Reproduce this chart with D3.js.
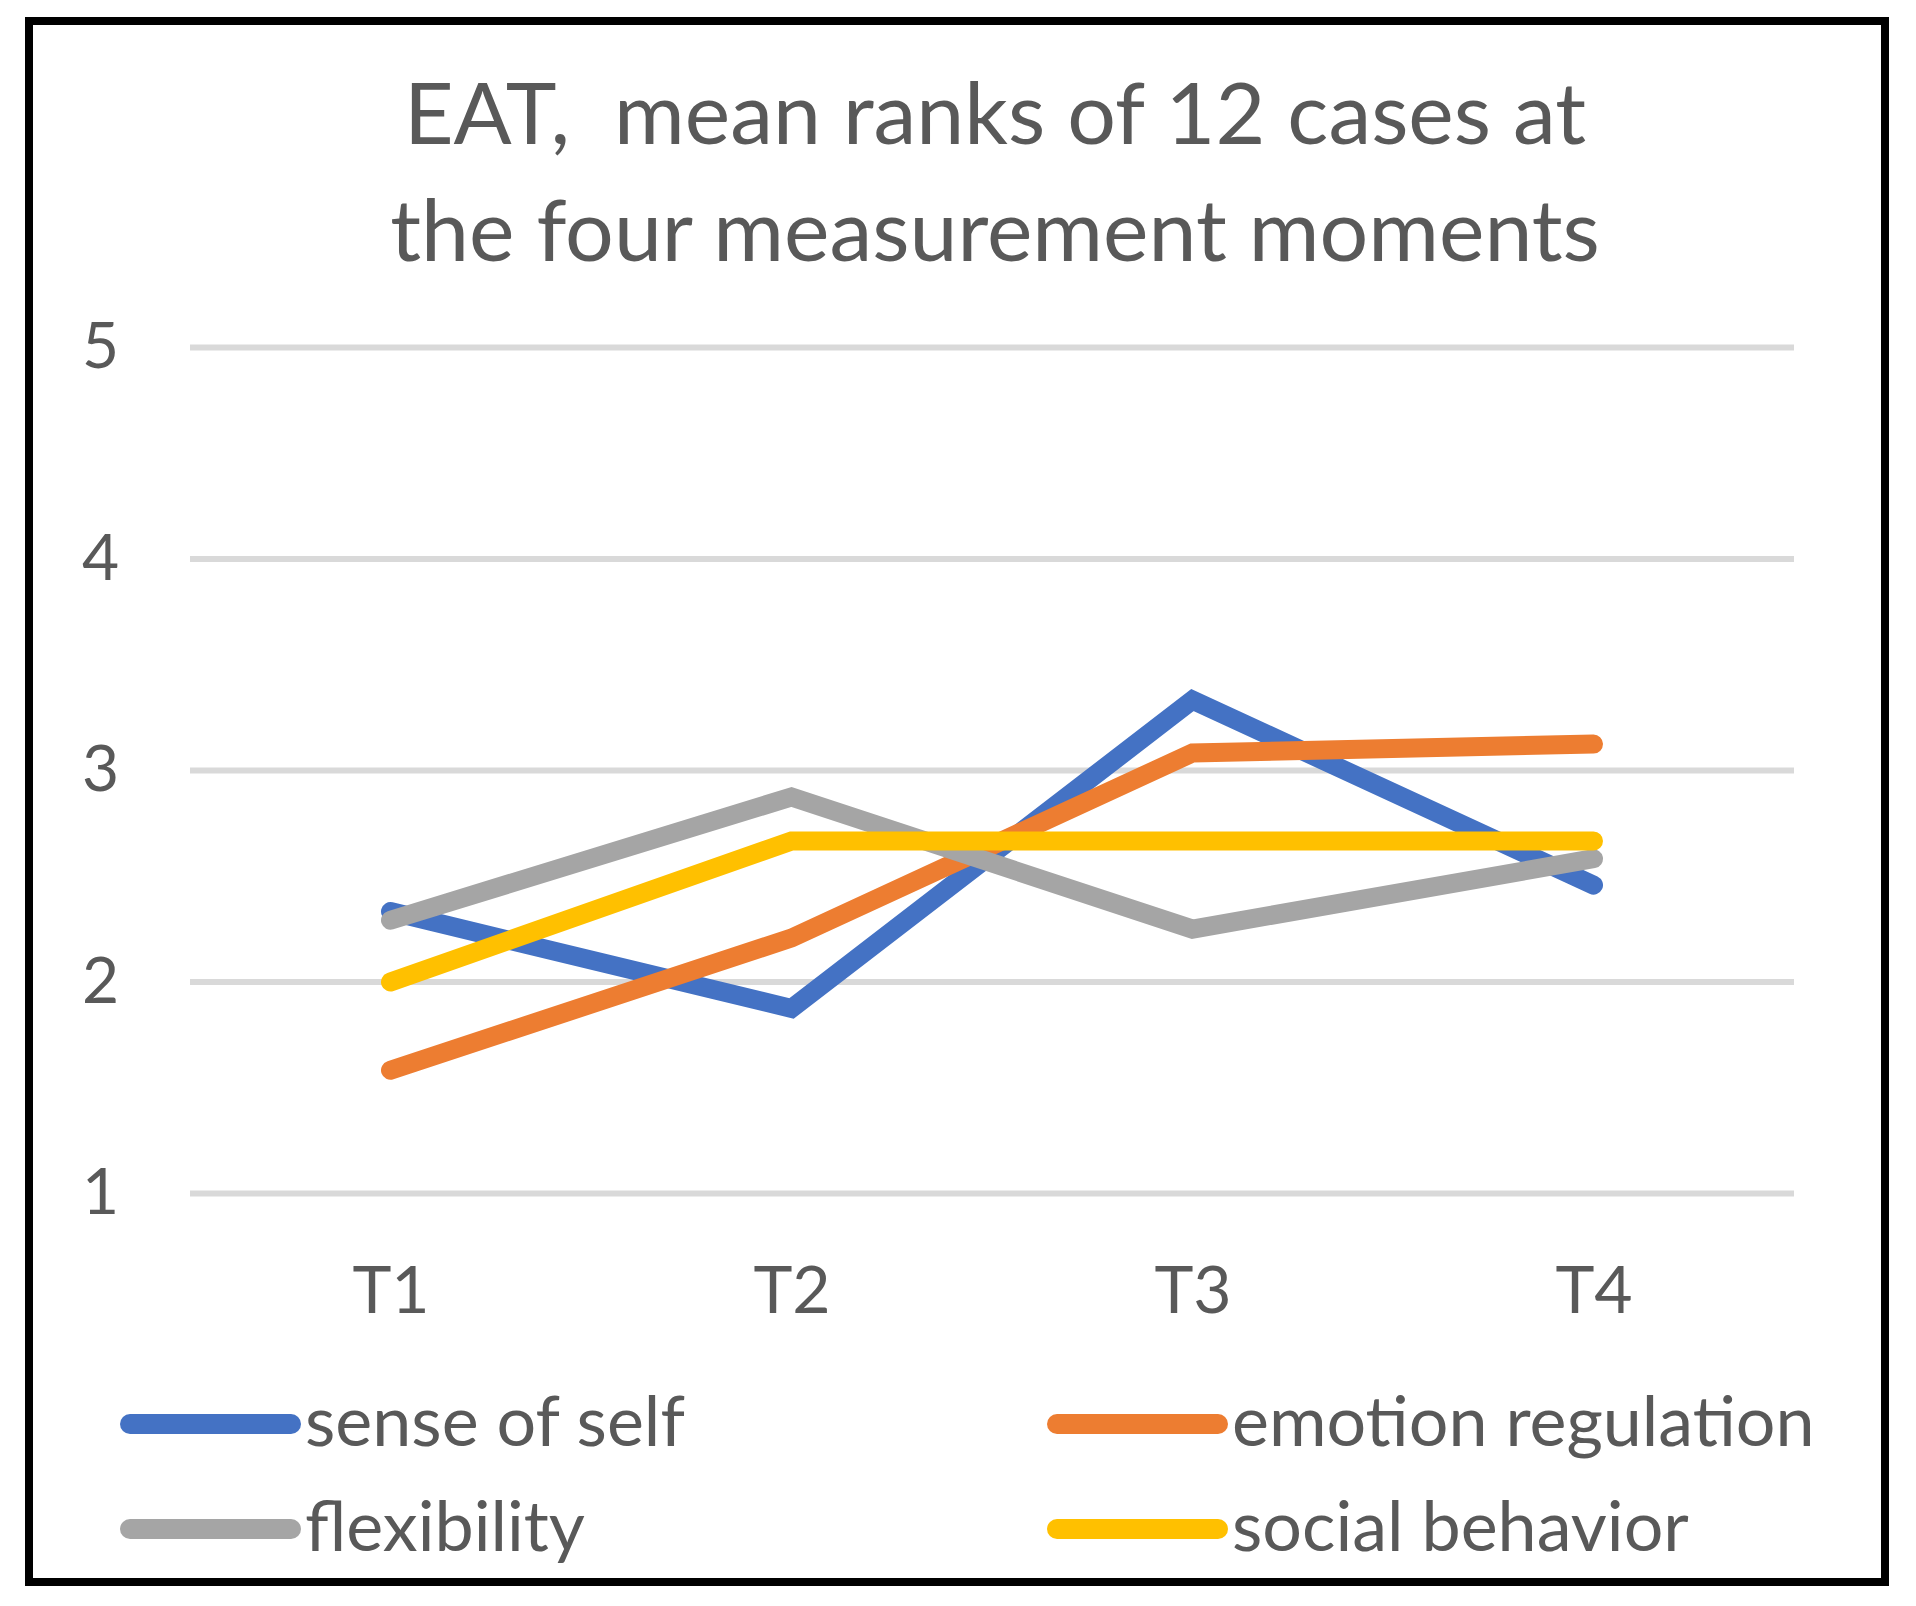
<!DOCTYPE html>
<html>
<head>
<meta charset="utf-8">
<script src="https://cdn.jsdelivr.net/npm/d3@7"></script>
<style>
  html, body { margin: 0; padding: 0; background: #ffffff; }
  svg { display: block; }
</style>
</head>
<body>
<svg id="chart" width="1916" height="1606"></svg>
<script>
// data (mean ranks, 12 cases)
var categories = ["T1", "T2", "T3", "T4"];
var seriesNames = ["sense of self", "emotion regulation", "flexibility", "social behavior"];
var seriesColors = ["#4472C4", "#ED7D31", "#A5A5A5", "#FFC000"];
var senseOfSelf = [2.333, 1.875, 3.333, 2.458];
var emotionRegulation = [1.583, 2.208, 3.083, 3.125];
var flexibility = [2.292, 2.875, 2.25, 2.583];
var socialBehavior = [2.0, 2.667, 2.667, 2.667];
var yTicks = [1, 2, 3, 4, 5];
var titleLines = ["EAT,  mean ranks of 12 cases at", "the four measurement moments"];

var seriesValues = [senseOfSelf, emotionRegulation, flexibility, socialBehavior];

var svg = d3.select("#chart");
var textColor = "#595959";
var font = "Lato, 'Open Sans', sans-serif";

svg.append("rect")
    .attr("width", 1916).attr("height", 1606)
    .attr("fill", "#ffffff");

/* outer frame */
svg.append("rect")
    .attr("x", 29).attr("y", 21)
    .attr("width", 1856).attr("height", 1561)
    .attr("fill", "none")
    .attr("stroke", "#000000")
    .attr("stroke-width", 8);

/* title */
svg.append("text")
    .attr("text-anchor", "middle")
    .attr("font-family", font)
    .attr("font-size", "86px")
    .attr("fill", textColor)
    .selectAll("tspan")
    .data(titleLines)
    .enter()
    .append("tspan")
    .attr("x", 995)
    .attr("y", function(d, i) { return 144 + i * 117; })
    .style("white-space", "pre")
    .text(function(d) { return d; });

var x = d3.scalePoint().domain(categories).range([190, 1794]).padding(0.5);
var y = d3.scaleLinear().domain([1, 5]).range([1193.5, 347.5]);

/* gridlines */
svg.append("g")
    .selectAll("line")
    .data(yTicks)
    .enter()
    .append("line")
    .attr("x1", 190).attr("x2", 1794)
    .attr("y1", function(d) { return y(d); })
    .attr("y2", function(d) { return y(d); })
    .attr("stroke", "#D9D9D9")
    .attr("stroke-width", 6);

/* y axis labels */
var yAxis = svg.append("g")
    .attr("transform", "translate(119,0)")
    .call(d3.axisLeft(y).tickValues(yTicks).tickSize(0).tickPadding(0).tickFormat(d3.format("d")));
yAxis.select(".domain").remove();
yAxis.selectAll("text")
    .attr("font-family", font)
    .attr("font-size", "64px")
    .attr("fill", textColor)
    .attr("dy", "0.32em");

/* x axis labels */
var xAxis = svg.append("g")
    .attr("transform", "translate(0,1313)")
    .call(d3.axisBottom(x).tickSize(0).tickPadding(0));
xAxis.select(".domain").remove();
xAxis.selectAll("text")
    .attr("font-family", font)
    .attr("font-size", "66px")
    .attr("fill", textColor)
    .attr("dy", "0");

/* lines */
var line = d3.line()
    .x(function(d, i) { return x(categories[i]); })
    .y(function(d) { return y(d); });

svg.append("g")
    .selectAll("path")
    .data(seriesValues)
    .enter()
    .append("path")
    .attr("d", line)
    .attr("fill", "none")
    .attr("stroke", function(d, i) { return seriesColors[i]; })
    .attr("stroke-width", 19)
    .attr("stroke-linecap", "round")
    .attr("stroke-linejoin", "miter");

/* legend, 2 x 2 */
var legend = svg.append("g")
    .selectAll("g")
    .data(seriesNames)
    .enter()
    .append("g")
    .attr("transform", function(d, i) {
        return "translate(" + (i % 2 === 0 ? 130 : 1057) + "," + (i < 2 ? 1424 : 1529) + ")";
    });

legend.append("line")
    .attr("x1", 0).attr("x2", 161)
    .attr("y1", 0).attr("y2", 0)
    .attr("stroke", function(d, i) { return seriesColors[i]; })
    .attr("stroke-width", 20)
    .attr("stroke-linecap", "round");

legend.append("text")
    .attr("x", 175)
    .attr("y", 22)
    .attr("font-family", font)
    .attr("font-size", "70px")
    .attr("fill", textColor)
    .text(function(d) { return d; });
</script>
</body>
</html>
